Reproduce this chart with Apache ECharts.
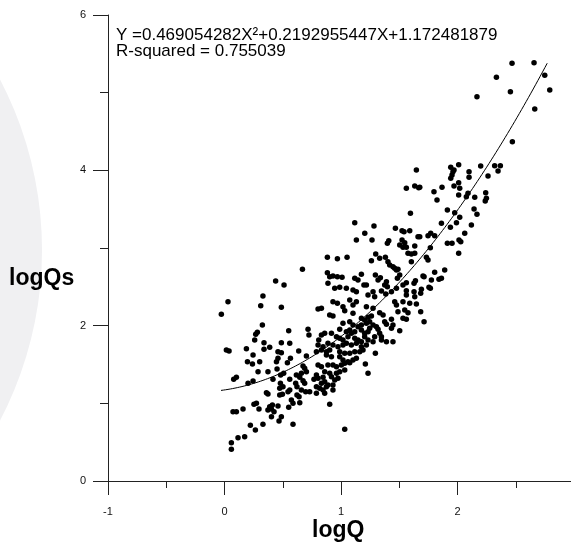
<!DOCTYPE html>
<html>
<head>
<meta charset="utf-8">
<script src="https://cdn.jsdelivr.net/npm/echarts@6/dist/echarts.min.js"></script>
<style>
html,body{margin:0;padding:0;background:#fff;overflow:hidden;}
#chart{width:571px;height:544px;}
</style>
</head>
<body>
<div id="chart"></div>
<script>
const logQ = [
0.330,0.030,0.311,0.488,-0.027,0.325,0.551,0.717,0.282,0.268,0.725,0.259,0.339,0.560,0.488,0.388,0.339,0.188,0.016,0.039,
0.459,0.488,0.637,0.245,0.566,0.459,0.446,0.197,0.240,0.302,0.540,0.703,0.674,0.688,0.451,0.288,0.373,0.508,0.482,0.617,
0.703,0.660,0.646,0.102,0.079,0.245,0.202,0.416,0.560,0.611,0.622,0.674,0.688,0.768,0.480,0.474,0.502,0.560,0.545,0.660,
0.622,0.640,0.697,0.731,0.360,0.373,0.474,0.497,0.574,0.588,0.646,0.274,0.253,0.296,0.388,0.411,0.459,0.373,0.403,0.425,
0.551,0.073,0.102,0.159,0.488,0.403,0.468,0.330,0.222,0.265,0.588,0.173,0.116,0.059,0.059,
0.669,0.439,0.511,
1.647,1.561,1.633,1.667,1.596,1.118,1.283,1.204,1.467,1.524,1.541,1.590,1.132,1.266,1.410,1.398,1.524,1.547,1.504,1.532,
1.561,1.633,1.661,0.883,0.969,1.052,1.298,1.332,1.381,1.261,1.403,1.418,1.446,1.461,1.476,1.489,1.575,1.604,1.633,1.604,
0.883,0.903,0.931,0.969,1.009,1.118,1.146,1.175,1.197,1.218,1.295,1.318,1.338,1.390,1.375,1.398,1.484,1.504,1.532,1.561,
1.627,1.639,1.704,0.888,0.946,0.989,1.046,1.103,1.132,1.275,1.347,1.433,1.476,1.561,1.627,
1.232,1.289,1.384,1.561,1.633,1.684,0.931,0.969,1.075,1.103,1.132,1.218,1.275,1.461,1.476,1.532,1.590,1.647,0.803,0.832,
1.017,1.032,1.332,1.361,1.489,1.547,1.575,1.684,0.903,0.931,1.103,1.175,1.203,1.232,1.261,1.532,1.561,1.433,1.375,1.390,
1.713,1.017,1.075,1.103,1.146,1.175,1.218,1.246,1.275,1.304,1.318,1.433,1.446,0.989,1.046,1.075,1.089,1.118,1.175,1.203,
1.232,1.246,1.332,1.347,1.504,0.832,0.860,0.918,0.809,0.961,0.989,1.017,1.060,1.118,1.146,1.175,1.203,1.232,1.275,1.289,
1.347,1.390,1.446,0.803,0.846,0.888,0.931,0.974,1.017,1.046,1.089,1.132,1.175,1.218,0.789,0.832,0.875,0.903,0.989,1.032,
1.075,1.118,1.161,1.189,1.295,0.875,0.918,0.989,1.017,1.060,1.103,1.132,1.003,1.032,1.075,0.803,0.832,0.888,0.931,0.961,
1.209,1.032,0.989,0.961,0.860,0.903,0.789,0.803,0.846,1.232,0.918,0.946,0.974,0.832,0.860,0.888,0.789,0.817,0.846,0.875,
0.931,0.931,0.789,0.860,0.903,1.032,
2.468,2.657,2.334,2.749,2.167,2.454,2.792,2.663,2.471,1.942,2.010,1.961,1.970,1.953,1.942,2.099,2.099,2.199,2.262,2.319,
2.368,2.348,1.676,1.798,1.824,1.867,1.970,2.010,2.019,2.010,2.090,2.076,2.148,2.242,2.248,2.238,1.913,1.976,2.019,1.991,
2.142,2.167,1.862,1.939,2.119,1.676,1.747,1.770,1.804,2.062,2.013,2.028,1.913,1.953,1.767,2.010,1.733,1.747,1.804,1.890,
1.862,1.841,1.713,1.776,1.690,1.755,1.767
];
const logQs = [
2.382,2.309,2.257,2.236,2.146,2.009,1.935,1.953,1.914,1.889,1.880,1.815,1.781,1.773,1.781,1.721,1.696,1.703,1.687,1.674,
1.665,1.652,1.674,1.622,1.580,1.580,1.536,1.536,1.506,1.536,1.523,1.609,1.481,1.451,1.442,1.407,1.407,1.387,1.365,1.365,
1.407,1.387,1.335,1.335,1.309,1.288,1.258,1.309,1.309,1.258,1.214,1.291,1.258,1.309,1.258,1.194,1.214,1.172,1.150,1.172,
1.107,1.085,1.150,1.150,1.137,1.120,1.107,1.116,1.043,1.000,1.008,1.000,0.988,0.927,0.957,0.979,0.966,0.914,0.927,0.892,
0.949,0.892,0.892,0.927,0.828,0.828,0.773,0.730,0.717,0.657,0.730,0.570,0.557,0.493,0.408,
2.726,2.575,2.524,
4.004,3.769,3.798,3.776,3.447,3.326,3.283,3.189,3.254,3.223,3.210,3.223,3.103,3.103,3.094,3.060,3.103,3.068,3.039,3.009,
3.009,3.026,3.145,2.880,2.862,2.880,2.923,2.867,2.880,2.836,2.823,2.781,2.759,2.739,2.717,2.726,2.932,2.923,2.932,2.823,
2.682,2.630,2.639,2.630,2.623,2.610,2.588,2.661,2.524,2.524,2.652,2.588,2.618,2.566,2.524,2.502,2.610,2.652,2.524,2.553,
2.545,2.579,2.639,2.545,2.481,2.494,2.481,2.459,2.437,2.437,2.446,2.437,2.481,2.450,2.437,
2.395,2.373,2.408,2.395,2.373,2.417,2.309,2.288,2.330,2.266,2.309,2.244,2.224,2.309,2.266,2.309,2.288,2.279,2.215,2.224,
2.244,2.193,2.167,2.137,2.180,2.202,2.167,2.180,2.137,2.124,2.159,2.095,2.073,2.108,2.124,2.095,2.082,2.082,2.051,2.018,
2.051,2.030,2.051,2.009,1.987,2.009,2.030,2.051,2.009,1.987,1.953,1.966,2.009,1.953,1.922,1.944,1.902,1.922,1.944,1.902,
1.922,1.966,1.902,1.858,1.935,1.880,1.902,1.902,1.815,1.858,1.837,1.815,1.858,1.837,1.815,1.793,1.858,1.815,1.793,1.858,
1.815,1.793,1.793,1.751,1.729,1.773,1.751,1.729,1.751,1.773,1.751,1.773,1.729,1.751,1.665,1.687,1.665,1.687,1.665,1.644,
1.644,1.665,1.665,1.687,1.644,1.622,1.600,1.600,1.558,1.536,1.558,1.580,1.494,1.515,1.523,1.494,1.472,1.494,1.494,1.472,
1.506,1.429,1.407,1.387,1.407,1.387,1.365,1.322,1.335,1.387,1.343,1.300,1.322,1.258,1.279,1.236,1.214,1.194,1.172,1.214,
1.236,1.172,1.129,1.129,0.988,0.666,
5.378,5.386,5.198,5.223,4.948,5.012,5.034,4.790,4.369,4.039,4.072,3.982,4.004,3.940,3.897,3.982,3.910,4.056,3.927,4.060,
4.060,3.991,3.781,3.725,3.618,3.781,3.798,3.841,3.769,3.682,3.704,3.660,3.653,3.712,3.640,3.605,3.489,3.454,3.395,3.326,
3.502,3.434,3.318,3.266,3.296,3.145,3.158,3.189,3.158,3.189,3.103,3.081,3.060,3.060,3.004,2.932,2.880,2.845,2.687,2.717,
2.610,2.597,2.630,2.588,2.468,2.494,2.481
];
// Quadratic fit shown on the chart: Y = a X^2 + b X + c
const fitA = 0.469054282, fitB = 0.2192955447, fitC = 1.172481879;
const fitStart = -0.03, fitEnd = 2.78;
const equationText = 'Y =0.469054282X\u00B2+0.2192955447X+1.172481879';
const r2Text = 'R-squared = 0.755039';
const xTicks = [-1, 0, 1, 2, 3];
const yTicks = [0, 2, 4, 6];

const pts = logQ.map((x, i) => [x, logQs[i]]);
const fit = [];
for (let x = fitStart; x <= fitEnd + 1e-9; x += 0.02) {
  fit.push([x, fitA * x * x + fitB * x + fitC]);
}

const FONT = '"Liberation Sans", Arial, sans-serif';
const chart = echarts.init(document.getElementById('chart'), null, {renderer: 'canvas'});
chart.setOption({
  backgroundColor: '#ffffff',
  animation: false,
  grid: {left: 108, width: 466, top: 15, height: 466, containLabel: false, outerBoundsMode: 'none'},
  xAxis: {
    type: 'value', min: xTicks[0], max: xTicks[xTicks.length - 1], interval: 1,
    axisLine: {onZero: false, lineStyle: {color: '#222', width: 1}},
    axisTick: {length: 14, lineStyle: {color: '#222'}},
    minorTick: {show: true, splitNumber: 2, length: 7, lineStyle: {color: '#222'}},
    splitLine: {show: false},
    axisLabel: {margin: 25, color: '#111', fontSize: 11, fontFamily: FONT, showMaxLabel: true}
  },
  yAxis: {
    type: 'value', min: yTicks[0], max: yTicks[yTicks.length - 1], interval: 2,
    axisLine: {onZero: false, lineStyle: {color: '#222', width: 1}},
    axisTick: {length: 15, lineStyle: {color: '#222'}},
    minorTick: {show: true, splitNumber: 2, length: 8, lineStyle: {color: '#222'}},
    splitLine: {show: false},
    axisLabel: {margin: 22, color: '#111', fontSize: 11, fontFamily: FONT}
  },
  graphic: [
    {type: 'circle', z: -10, silent: true, shape: {cx: -325, cy: 250, r: 367}, style: {fill: '#f0f0f2'}},
    {type: 'text', left: 9, top: 267, style: {text: 'logQs', font: 'bold 23px ' + FONT, fill: '#000'}},
    {type: 'text', left: 312, top: 519, style: {text: 'logQ', font: 'bold 23px ' + FONT, fill: '#000'}},
    {type: 'text', left: 116, top: 27, style: {text: equationText, font: '17px ' + FONT, fill: '#000'}},
    {type: 'text', left: 116, top: 43, style: {text: r2Text, font: '17px ' + FONT, fill: '#000'}}
  ],
  series: [
    {type: 'scatter', data: pts, symbol: 'circle', symbolSize: 5.5, itemStyle: {color: '#000', opacity: 1}, z: 3},
    {type: 'line', data: fit, showSymbol: false, smooth: false, lineStyle: {color: '#000', width: 1}, z: 2}
  ]
});
</script>
</body>
</html>
